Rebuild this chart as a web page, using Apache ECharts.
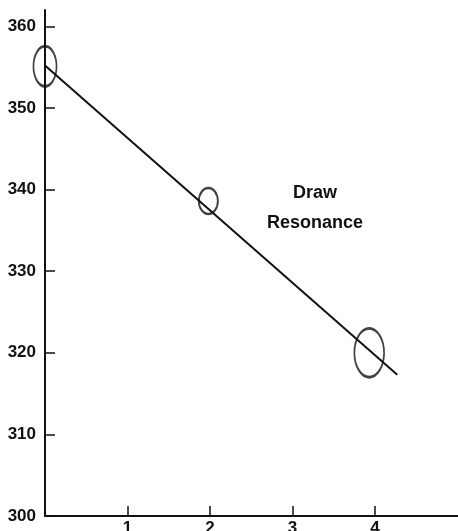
<!DOCTYPE html>
<html><head><meta charset="utf-8">
<script src="https://cdn.jsdelivr.net/npm/echarts@6/dist/echarts.min.js"></script>
<style>html,body{margin:0;padding:0;background:#fff}#c{width:458px;height:531px}</style>
</head><body><div id="c"></div>
<script>
// Data
var xTicks = [1, 2, 3, 4];
var yTicks = [300, 310, 320, 330, 340, 350, 360];
var fitLine = [[0, 355.2], [4.27, 317.3]];
var pointX = [0, 1.98, 3.93];
var pointY = [355.1, 338.6, 320.0];
var errX = [0.14, 0.115, 0.18];   // half-widths (x units)
var errY = [2.45, 1.6, 3.0];      // half-heights (y units)
var labelLines = ['Draw', 'Resonance'];

var ellipsePath = 'path://M1,0 C1.5523,0 2,0.4477 2,1 C2,1.5523 1.5523,2 1,2 C0.4477,2 0,1.5523 0,1 C0,0.4477 0.4477,0 1,0 Z';
var font = 'Liberation Sans, Arial, Helvetica, sans-serif';
var chart = echarts.init(document.getElementById('c'), null, {renderer: 'canvas'});
var pts = pointX.map(function (x, i) { return [x, pointY[i], i]; });

var option = {
  animation: false,
  backgroundColor: '#fff',
  grid: {left: 45, right: 0.5, top: 10, bottom: 15, containLabel: false, outerBoundsMode: 'none'},
  xAxis: {
    type: 'value', min: 0, max: 5,
    axisLine: {show: true, onZero: false, lineStyle: {color: '#111', width: 2}},
    axisTick: {show: true, inside: true, length: 10, customValues: xTicks, lineStyle: {color: '#111', width: 1.5}},
    axisLabel: {show: true, customValues: xTicks, margin: 4, color: '#111', fontFamily: font, fontWeight: 'bold', fontSize: 17},
    splitLine: {show: false}
  },
  yAxis: {
    type: 'value', min: 300, max: 362,
    axisLine: {show: true, onZero: false, lineStyle: {color: '#111', width: 2}},
    axisTick: {show: true, inside: true, length: 10, customValues: yTicks, lineStyle: {color: '#111', width: 1.5}},
    axisLabel: {show: true, customValues: yTicks, margin: 9, color: '#111', fontFamily: font, fontWeight: 'bold', fontSize: 17},
    splitLine: {show: false}
  },
  series: [
    {type: 'line', data: fitLine, symbol: 'none', lineStyle: {color: '#111', width: 2}, z: 3},
    {type: 'scatter', data: pts, symbol: ellipsePath, symbolSize: [20, 30],
     itemStyle: {color: 'rgba(0,0,0,0)', borderColor: '#111', borderWidth: 2.2}, z: 4}
  ],
  graphic: labelLines.map(function (t, i) {
    return {type: 'text', x: 315, y: 193 + i * 30,
      style: {text: t, align: 'center', verticalAlign: 'middle', fill: '#111',
              font: 'bold 18px ' + font}};
  })
};
chart.setOption(option);

// size ellipses from data-unit half-widths via the axes' scales
var sizes = pts.map(function (p, i) {
  var a = chart.convertToPixel({gridIndex: 0}, [p[0] - errX[i], p[1] - errY[i]]);
  var b = chart.convertToPixel({gridIndex: 0}, [p[0] + errX[i], p[1] + errY[i]]);
  return [Math.abs(b[0] - a[0]), Math.abs(b[1] - a[1])];
});
chart.setOption({series: [{}, {symbolSize: function (v) { return sizes[v[2]]; }}]});
</script></body></html>
